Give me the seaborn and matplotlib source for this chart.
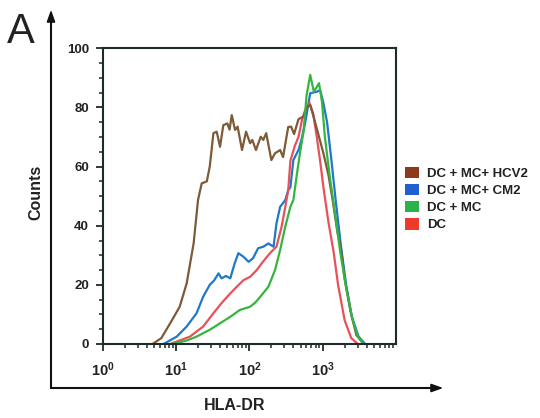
import numpy as np
import pandas as pd
import matplotlib
matplotlib.use("Agg")
import matplotlib.pyplot as plt
import seaborn as sns
from matplotlib.patches import Patch
from matplotlib.ticker import FixedLocator, FixedFormatter, MultipleLocator, LogLocator, NullFormatter

# ---------------- data (x positions as log10 of HLA-DR intensity) ----------------
hcv2_log = [0.68, 0.80, 0.92, 1.05, 1.145, 1.24, 1.30, 1.35, 1.42, 1.46, 1.51, 1.555, 1.60,
            1.645, 1.70, 1.73, 1.76, 1.805, 1.84, 1.90, 1.955, 2.01, 2.04, 2.09, 2.155, 2.19,
            2.23, 2.30, 2.35, 2.42, 2.46, 2.53, 2.57, 2.61, 2.67, 2.74, 2.79, 2.83, 2.87, 2.94,
            3.01, 3.08, 3.14, 3.20, 3.25, 3.30, 3.38, 3.46, 3.56]
hcv2_cnt = [0, 2, 7, 12.6, 20.5, 34, 48.7, 54.3, 55, 60, 71.3, 71.8, 66.7,
            74, 74.6, 72.5, 77.4, 72.4, 73.5, 65.6, 71.8, 67.9, 69, 65.6, 70.1, 69,
            71.3, 62.2, 64.5, 65.6, 63.2, 73.4, 73.5, 71, 76, 77, 80.3, 80.8, 77.4, 71,
            64.5, 57, 48, 38, 32, 22, 11, 3, 0]

cm2_log = [0.83, 1.01, 1.145, 1.28, 1.37, 1.46, 1.52, 1.58, 1.62, 1.68, 1.74, 1.80, 1.85,
           1.92, 1.99, 2.05, 2.12, 2.19, 2.26, 2.33, 2.37, 2.42, 2.49, 2.53, 2.56, 2.60, 2.67,
           2.71, 2.76, 2.83, 2.92, 2.965, 3.01, 3.06, 3.12, 3.18, 3.25, 3.32, 3.40, 3.49, 3.58]
cm2_cnt = [0, 2.5, 5.9, 10.4, 16, 20, 21.5, 23.9, 22.2, 23, 22.2, 27.3, 30.7,
           29.5, 27.8, 29, 32.4, 32.9, 34, 32.9, 40.8, 46.4, 48.7, 52, 53, 62.2, 65.6,
           69, 74.6, 84.8, 85.3, 85.9, 81.5, 75, 62, 48, 33, 20, 9, 2.5, 0]

mc_log = [0.95, 1.15, 1.28, 1.46, 1.60, 1.74, 1.87, 2.01, 2.08, 2.15, 2.26, 2.35, 2.42,
          2.49, 2.56, 2.60, 2.65, 2.69, 2.74, 2.78, 2.83, 2.88, 2.95, 2.99, 3.03, 3.10,
          3.17, 3.24, 3.32, 3.40, 3.48, 3.56]
mc_cnt = [0, 1.2, 2.5, 4.8, 7, 9.2, 11.5, 12.6, 14, 16, 19.4, 25, 31.8,
          39.7, 46.4, 48.7, 57.7, 64.5, 72, 84, 91, 85.3, 88.2, 82, 70, 56,
          44, 31, 19, 9, 2.5, 0]

dc_log = [0.92, 1.19, 1.37, 1.51, 1.62, 1.74, 1.83, 1.92, 2.01, 2.10, 2.17, 2.24, 2.30,
          2.37, 2.44, 2.49, 2.53, 2.56, 2.62, 2.67, 2.72, 2.76, 2.82, 2.87, 2.92, 2.97,
          3.01, 3.08, 3.15, 3.21, 3.30, 3.39, 3.48]
dc_cnt = [0, 2.5, 5.9, 10.4, 13.8, 17.1, 19.4, 21.6, 22.7, 25, 27.3, 29.5, 31.2,
          32.9, 39.7, 46.4, 52, 62, 67, 70, 76, 79, 81.5, 78, 70, 61,
          53, 41, 31, 20, 8, 2, 0]

samples = ["DC + MC+ HCV2", "DC + MC+ CM2", "DC + MC", "DC"]
line_colors = ["#7d5a38", "#1f78c8", "#35b540", "#e8505a"]
legend_colors = ["#8b3a1e", "#1f5fcf", "#2bb24a", "#ee3a2c"]

x_ticks = [1, 10, 100, 1000]
x_tick_labels = [r"$\mathbf{10^{0}}$", r"$\mathbf{10^{1}}$", r"$\mathbf{10^{2}}$", r"$\mathbf{10^{3}}$"]
y_ticks = [0, 20, 40, 60, 80, 100]
y_tick_labels = ["0", "20", "40", "60", "80", "100"]

# ---------------- build table ----------------
series = [(hcv2_log, hcv2_cnt), (cm2_log, cm2_cnt), (mc_log, mc_cnt), (dc_log, dc_cnt)]
frames = []
for name, (lg, ct) in zip(samples, series):
    frames.append(pd.DataFrame({"HLA-DR": 10 ** np.asarray(lg), "Counts": ct, "Sample": name}))
df = pd.concat(frames, ignore_index=True)

# ---------------- style ----------------
sns.set_style("ticks")
plt.rcParams["font.family"] = ["Liberation Sans", "DejaVu Sans"]
plt.rcParams["mathtext.fontset"] = "custom"
plt.rcParams["mathtext.bf"] = "Liberation Sans:bold"
plt.rcParams["mathtext.rm"] = "Liberation Sans"
plt.rcParams["mathtext.it"] = "Liberation Sans:italic"

W, H = 540, 418
fig = plt.figure(figsize=(W / 100, H / 100), dpi=100)
ax_l, ax_r, ax_t, ax_b = 102.7, 396.0, 48.3, 344.0
ax = fig.add_axes([ax_l / W, (H - ax_b) / H, (ax_r - ax_l) / W, (ax_b - ax_t) / H])

order = ["DC + MC+ CM2", "DC", "DC + MC+ HCV2", "DC + MC"]
for name in order:
    i = samples.index(name)
    sub = df[df["Sample"] == name]
    sns.lineplot(data=sub, x="HLA-DR", y="Counts", color=line_colors[i], lw=1.6,
                 sort=False, estimator=None, ax=ax, legend=False)

ax.set_xscale("log")
ax.set_xlim(1, 10000)
ax.set_ylim(0, 100)

spine_color = "#1e2b2b"
for s in ax.spines.values():
    s.set_visible(True)
    s.set_color(spine_color)
    s.set_linewidth(1.5)

ax.xaxis.set_major_locator(FixedLocator(x_ticks))
ax.xaxis.set_major_formatter(FixedFormatter(x_tick_labels))
ax.xaxis.set_minor_locator(LogLocator(base=10, subs=np.arange(2, 10), numticks=20))
ax.xaxis.set_minor_formatter(NullFormatter())
ax.yaxis.set_major_locator(FixedLocator(y_ticks))
ax.yaxis.set_major_formatter(FixedFormatter(y_tick_labels))
ax.yaxis.set_minor_locator(MultipleLocator(5))

ax.tick_params(axis="both", which="major", direction="out", length=5, width=1.3,
               color=spine_color, labelcolor="#222222")
ax.tick_params(axis="both", which="minor", direction="out", length=3, width=1.1,
               color=spine_color)
ax.tick_params(axis="x", which="major", labelsize=10.5, pad=7)
ax.tick_params(axis="y", which="major", labelsize=9.5, pad=5)
for lab in ax.get_yticklabels():
    lab.set_fontweight("bold")

ax.set_xlabel("HLA-DR", fontsize=11.5, fontweight="bold", color="#222222")
ax.set_ylabel("Counts", fontsize=11.5, fontweight="bold", color="#222222")
ax.xaxis.set_label_coords((235 - ax_l) / (ax_r - ax_l), -(398 - ax_b) / (ax_b - ax_t))
ax.yaxis.set_label_coords(-(ax_l - 43) / (ax_r - ax_l), (ax_b - 192.5) / (ax_b - ax_t))

# outer arrow axes (L shape)
def fx(px):
    return px / W

def fy(py):
    return 1 - py / H

corner = (fx(51), fy(388))
fig.add_artist(plt.Line2D([corner[0], corner[0]], [corner[1], fy(16)], color="#111111", lw=1.5))
fig.add_artist(plt.Line2D([corner[0], fx(436)], [corner[1], corner[1]], color="#111111", lw=1.5))
ax.annotate("", xy=(fx(51), fy(7)), xytext=(fx(51), fy(20)), xycoords="figure fraction",
            textcoords="figure fraction",
            arrowprops=dict(arrowstyle="-|>,head_length=0.7,head_width=0.25", color="#111111", lw=1.2))
ax.annotate("", xy=(fx(446), fy(388)), xytext=(fx(433), fy(388)), xycoords="figure fraction",
            textcoords="figure fraction",
            arrowprops=dict(arrowstyle="-|>,head_length=0.7,head_width=0.25", color="#111111", lw=1.2))

fig.text(fx(7), fy(43), "A", fontsize=30, color="#222222", va="baseline", ha="left")

handles = [Patch(facecolor=c, edgecolor="none") for c in legend_colors]
leg = fig.legend(handles, samples, loc="center left", bbox_to_anchor=(fx(405), fy(199)),
                 frameon=False, fontsize=9.5, handlelength=1.05, handleheight=0.95,
                 handletextpad=0.65, labelspacing=0.3, borderpad=0, borderaxespad=0)
for t in leg.get_texts():
    t.set_fontweight("bold")
    t.set_color("#222222")

fig.savefig("out.png", dpi=100)
